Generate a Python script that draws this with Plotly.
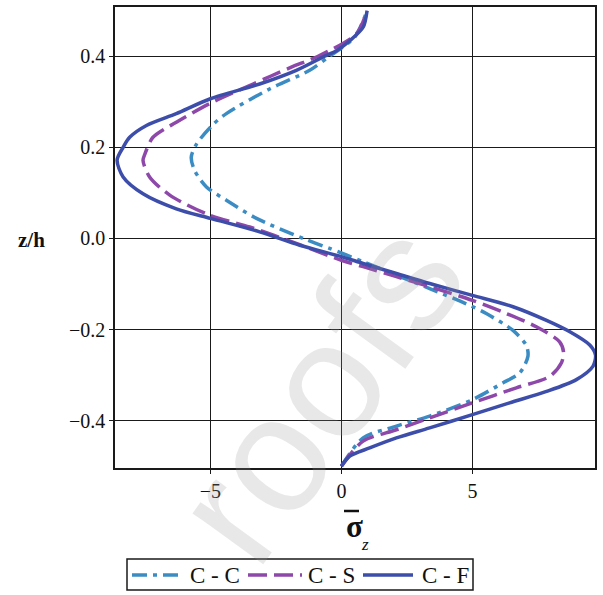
import plotly.graph_objects as go

# Normal stress profiles through the thickness (sigma_z vs z/h)
cc_z = [-0.5, -0.438, -0.412, -0.390, -0.354, -0.317, -0.295, -0.259, -0.235, -0.202,
        -0.165, -0.147, -0.110, -0.081, -0.051, -0.022, 0.0, 0.044, 0.084, 0.113,
        0.149, 0.178, 0.207, 0.25, 0.274, 0.328, 0.369, 0.400, 0.442, 0.5]
cc_s = [0.0, 0.83, 2.10, 3.37, 5.0, 6.17, 6.81, 7.12, 7.06, 6.55,
        5.53, 4.90, 3.37, 2.10, 0.83, -0.45, -1.46, -3.24, -4.39, -5.15,
        -5.6, -5.73, -5.53, -4.90, -4.39, -2.74, -1.21, -0.45, 0.51, 0.98]

cs_z = [-0.5, -0.445, -0.420, -0.394, -0.361, -0.328, -0.303, -0.273, -0.250, -0.227,
        -0.194, -0.165, -0.136, -0.106, -0.084, -0.062, -0.048, -0.011, 0.025, 0.051,
        0.095, 0.135, 0.171, 0.185, 0.222, 0.255, 0.296, 0.339, 0.376, 0.400, 0.449, 0.5]
cs_s = [0.0, 0.83, 2.10, 3.37, 5.0, 6.68, 7.95, 8.40, 8.48, 8.33,
        7.44, 6.3, 5.0, 3.37, 2.10, 0.83, 0.0, -1.72, -3.5, -5.03,
        -6.55, -7.32, -7.57, -7.5, -7.19, -6.3, -5.03, -3.37, -1.91, -0.89, 0.57, 0.98]

cf_z = [-0.5, -0.478, -0.460, -0.438, -0.416, -0.387, -0.361, -0.336, -0.310, -0.281,
        -0.256, -0.234, -0.205, -0.180, -0.150, -0.125, -0.099, -0.077, -0.055, -0.040,
        -0.015, 0.0145, 0.044, 0.065, 0.098, 0.135, 0.172, 0.200, 0.222, 0.248,
        0.274, 0.3066, 0.339, 0.369, 0.400, 0.412, 0.434, 0.4635, 0.5]
cf_s = [0.0, 0.32, 1.08, 2.10, 3.37, 5.0, 6.42, 7.83, 8.97, 9.6,
        9.7, 9.48, 8.72, 7.83, 6.55, 5.0, 3.37, 2.10, 0.83, 0.0,
        -1.59, -3.12, -5.0, -6.30, -7.57, -8.33, -8.56, -8.33, -8.08, -7.44,
        -6.30, -5.0, -3.12, -1.72, -0.64, -0.19, 0.32, 0.83, 0.98]

series_names = ["C - C", "C - S", "C - F"]
x_ticks = [-5, 0, 5]
y_ticks = [-0.4, -0.2, 0.0, 0.2, 0.4]

SERIF = "Liberation Serif"
styles = [
    dict(color="#3C8CC4", dash="15px,6px,4px,6px"),
    dict(color="#8D48AA", dash="19px,7px"),
    dict(color="#3D4DAA", dash="solid"),
]

fig = go.Figure()
for name, xs, zs, st in zip(series_names, [cc_s, cs_s, cf_s], [cc_z, cs_z, cf_z], styles):
    fig.add_trace(go.Scatter(x=xs, y=zs, name=name, mode="lines", showlegend=False,
                             line=dict(color=st["color"], width=3.5, dash=st["dash"],
                                       shape="spline", smoothing=0.8)))

axis_common = dict(showgrid=True, gridcolor="#1a1a1a", gridwidth=1.3,
                   showline=True, linecolor="#1a1a1a", linewidth=1.5, mirror=True,
                   ticks="outside", ticklen=4, tickcolor="#1a1a1a", tickwidth=1.3,
                   zeroline=False,
                   tickfont=dict(family=SERIF, size=20, color="#111111"))

fig.update_xaxes(range=[-8.64, 9.68], tickvals=x_ticks,
                 ticktext=[f"{v}".replace("-", "\u2212") for v in x_ticks], **axis_common)
fig.update_yaxes(range=[-0.504, 0.508], tickvals=y_ticks,
                 ticktext=[f"{v:.1f}".replace("-", "\u2212") for v in y_ticks], **axis_common)

W, H = 603, 595
L, R, T, B = 115, 8, 7, 127
pw, ph = W - L - R, H - T - B


def px(xp):
    return (xp - L) / pw


def py(yp):
    return (H - B - yp) / ph


annotations = [
    dict(text="roofs", xref="paper", yref="paper", x=px(318), y=py(392),
         xanchor="center", yanchor="middle", showarrow=False, textangle=-54,
         font=dict(family="Liberation Sans", size=165, color="rgba(150,150,150,0.22)")),
    dict(text="<b>z/h</b>", xref="paper", yref="paper", x=px(31), y=py(240),
         xanchor="center", yanchor="middle",
         showarrow=False, font=dict(family=SERIF, size=21, color="#111111")),
    dict(text="<b>\u03c3</b>", xref="paper", yref="paper", x=px(354), y=py(526),
         xanchor="center", yanchor="middle",
         showarrow=False, font=dict(family=SERIF, size=31, color="#111111")),
    dict(text="<i>z</i>", xref="paper", yref="paper", x=px(365), y=py(544),
         xanchor="center", yanchor="middle",
         showarrow=False, font=dict(family=SERIF, size=17, color="#111111")),
]

shapes = [
    dict(type="line", xref="paper", yref="paper", x0=px(344), x1=px(359),
         y0=py(511), y1=py(511), line=dict(color="#111111", width=2.5)),
]

# Boxed key below the axis title
key_box = (127, 473, 559, 590)
key_y = 575
key_samples = [(132, 184), (248, 302), (363, 413)]
key_text_x = [215, 331, 445]

shapes.append(dict(type="rect", xref="paper", yref="paper",
                   x0=px(key_box[0]), x1=px(key_box[1]),
                   y0=py(key_box[3]), y1=py(key_box[2]),
                   line=dict(color="#1a1a1a", width=1.5), fillcolor="white", layer="below"))
for (x0, x1), tx, name, st in zip(key_samples, key_text_x, series_names, styles):
    shapes.append(dict(type="line", xref="paper", yref="paper",
                       x0=px(x0), x1=px(x1), y0=py(key_y), y1=py(key_y),
                       line=dict(color=st["color"], width=3.5, dash=st["dash"])))
    annotations.append(dict(text=name, xref="paper", yref="paper", x=px(tx), y=py(key_y),
                            xanchor="center", yanchor="middle", showarrow=False,
                            font=dict(family=SERIF, size=23, color="#111111")))

fig.update_layout(
    width=W, height=H,
    margin=dict(l=L, r=R, t=T, b=B, autoexpand=False),
    paper_bgcolor="white", plot_bgcolor="white",
    showlegend=False,
    annotations=annotations,
    shapes=shapes,
)

fig.write_html("out.html")
